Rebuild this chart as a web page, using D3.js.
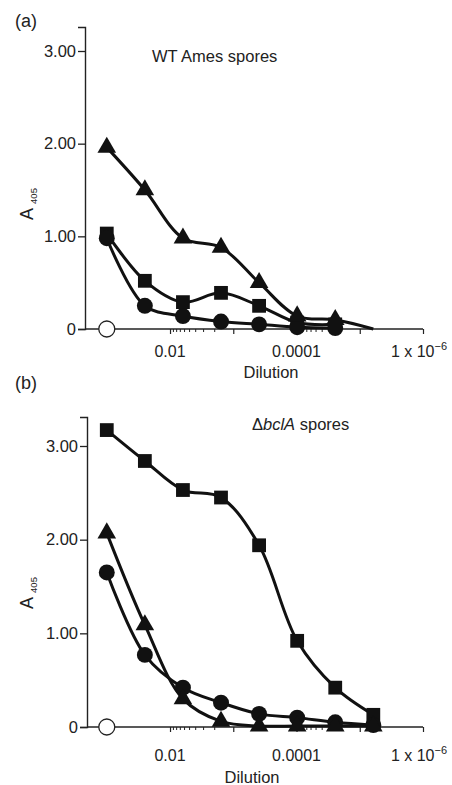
<!DOCTYPE html>
<html><head><meta charset="utf-8">
<script src="https://cdn.jsdelivr.net/npm/d3@7"></script>
<style>
body{margin:0;background:#fff}
svg{display:block}
text{font-family:"Liberation Sans",Arial,sans-serif;fill:#222}
</style>
</head><body>
<svg id="c" width="452" height="785"></svg>
<script>
// ---------- data ----------
const dilutions = [1/10, 1/40, 1/160, 1/640, 1/2560, 1/10240, 1/40960, 1/163840];
const xMajorTicks = [0.1, 0.01, 0.001, 0.0001, 0.00001, 0.000001];
const xLabeledTicks = [0.01, 0.0001, 0.000001];
const xMinorTicks = [0.009, 0.008, 0.007, 0.006, 0.005, 0.004, 0.003, 0.002,
                     0.00009, 0.00008, 0.00007, 0.00006, 0.00005, 0.00004, 0.00003, 0.00002];
const yTicks = [0, 1, 2, 3];
const yTickLabels = ["0", "1.00", "2.00", "3.00"];

// panel (a) WT Ames spores
const aTriangle = [1.96, 1.50, 0.98, 0.88, 0.50, 0.14, 0.10, 0.00];
const aTriangleMarked = 7;
const aSquare   = [1.03, 0.52, 0.29, 0.39, 0.25, 0.07, 0.05];
const aCircle   = [0.98, 0.25, 0.14, 0.08, 0.05, 0.02, 0.01];
const aControl  = [0];

// panel (b) delta bclA spores
const bSquare   = [3.17, 2.84, 2.53, 2.45, 1.94, 0.92, 0.42, 0.13];
const bTriangle = [2.07, 1.09, 0.30, 0.06, 0.01, 0.01, 0.01, 0.01];
const bCircle   = [1.65, 0.77, 0.42, 0.26, 0.14, 0.10, 0.05, 0.02];
const bControl  = [0];

// ---------- drawing ----------
const svg = d3.select("#c");
const x = d3.scaleLog().domain([0.221, 1e-6]).range([85, 423]);

const panels = [
  {tag:"(a)", tagY:27, y0:329, y3:51, top:27, left:85,
   titleX:152, titleY:62, title:[["WT Ames spores","normal"]],
   yLabY:204, dilX:271, dilY:378, tickLabDy:28,
   series:[
     {vals:aSquare, sym:"square"},
     {vals:aCircle, sym:"circle"},
     {vals:aTriangle, sym:"triangle", marked:aTriangleMarked}
   ], control:aControl},
  {tag:"(b)", tagY:389, y0:727, y3:446, top:417, left:87,
   titleX:252, titleY:430, title:[["\u0394","normal"],["bclA","italic"],[" spores","normal"]],
   yLabY:593, dilX:252, dilY:783, tickLabDy:34,
   series:[
     {vals:bSquare, sym:"square"},
     {vals:bCircle, sym:"circle"},
     {vals:bTriangle, sym:"triangle"}
   ], control:bControl}
];

const symType = {square:d3.symbolSquare, circle:d3.symbolCircle, triangle:d3.symbolTriangle};
const symSize = {square:190, circle:200, triangle:150};

panels.forEach(p => {
  const ymax = 3 * (p.y0 - p.top) / (p.y0 - p.y3);
  const y = d3.scaleLinear().domain([0, ymax]).range([p.y0, p.top]);
  const g = svg.append("g");

  g.append("text").attr("x", 15).attr("y", p.tagY).attr("font-size", 18).text(p.tag);

  // y axis
  const ya = g.append("g").attr("transform", `translate(${p.left},0)`)
    .call(d3.axisLeft(y).tickValues(yTicks).tickSizeOuter(0).tickSize(7).tickPadding(2)
      .tickFormat((d,i) => yTickLabels[i]));
  ya.select(".domain").attr("stroke", "#222").attr("stroke-width", 1.4);
  ya.selectAll(".tick line").attr("stroke", "#222").attr("stroke-width", 1.3);
  ya.selectAll(".tick text").attr("font-size", 16.5).attr("font-family", '"Liberation Sans",Arial,sans-serif').attr("fill", "#222");

  // x axis
  const xa = g.append("g").attr("transform", `translate(0,${p.y0})`)
    .call(d3.axisBottom(x).tickValues(xMajorTicks).tickSizeOuter(0).tickSize(5).tickFormat(""));
  xa.select(".domain").attr("d", `M${p.left},0H423`).attr("stroke", "#222").attr("stroke-width", 1.4);
  xa.selectAll(".tick line").attr("stroke", "#222").attr("stroke-width", 1.2);
  const xm = g.append("g").attr("transform", `translate(0,${p.y0})`)
    .call(d3.axisBottom(x).tickValues(xMinorTicks).tickSizeOuter(0).tickSize(3).tickFormat(""));
  xm.select(".domain").remove();
  xm.selectAll(".tick line").attr("stroke", "#222").attr("stroke-width", 1);

  // x tick labels
  xLabeledTicks.forEach(t => {
    const tx = g.append("text").attr("x", x(t)).attr("y", p.y0 + p.tickLabDy)
      .attr("font-size", 16).attr("text-anchor", "middle");
    if (t === 0.000001) {
      tx.attr("dx", -4);
      tx.append("tspan").text("1 x 10");
      tx.append("tspan").attr("font-size", 11).attr("dy", -7).text("\u22126");
    } else {
      tx.text(String(t));
    }
  });

  // axis titles
  g.append("text").attr("x", p.dilX).attr("y", p.dilY).attr("font-size", 16.5)
    .attr("text-anchor", "middle").text("Dilution");
  const yl = g.append("text").attr("transform", `translate(33,${p.yLabY}) rotate(-90)`)
    .attr("font-size", 18).attr("text-anchor", "middle");
  yl.append("tspan").text("A");
  yl.append("tspan").attr("font-size", 9.5).attr("dx", 4).attr("dy", 4).text("405");

  // panel title
  const tt = g.append("text").attr("x", p.titleX).attr("y", p.titleY).attr("font-size", 16.5);
  p.title.forEach(([s, st]) => tt.append("tspan").attr("font-style", st).text(s));

  // series
  const line = d3.line().x((d,i) => x(dilutions[i])).y(d => y(d)).curve(d3.curveCatmullRom.alpha(0.5));
  p.series.forEach(s => {
    g.append("path").attr("d", line(s.vals)).attr("fill", "none")
      .attr("stroke", "#111").attr("stroke-width", 3).attr("stroke-linejoin", "round");
  });
  p.series.forEach(s => {
    const n = s.marked !== undefined ? s.marked : s.vals.length;
    g.selectAll(null).data(s.vals.slice(0, n)).enter().append("path")
      .attr("d", d3.symbol().type(symType[s.sym]).size(symSize[s.sym]))
      .attr("transform", (d,i) => `translate(${x(dilutions[i])},${y(d)})`)
      .attr("fill", "#111");
  });
  // control (open circle)
  g.selectAll(null).data(p.control).enter().append("circle")
    .attr("cx", (d,i) => x(dilutions[i])).attr("cy", d => y(d)).attr("r", 8)
    .attr("fill", "#fff").attr("stroke", "#222").attr("stroke-width", 1.3);
});
</script>
</body></html>
